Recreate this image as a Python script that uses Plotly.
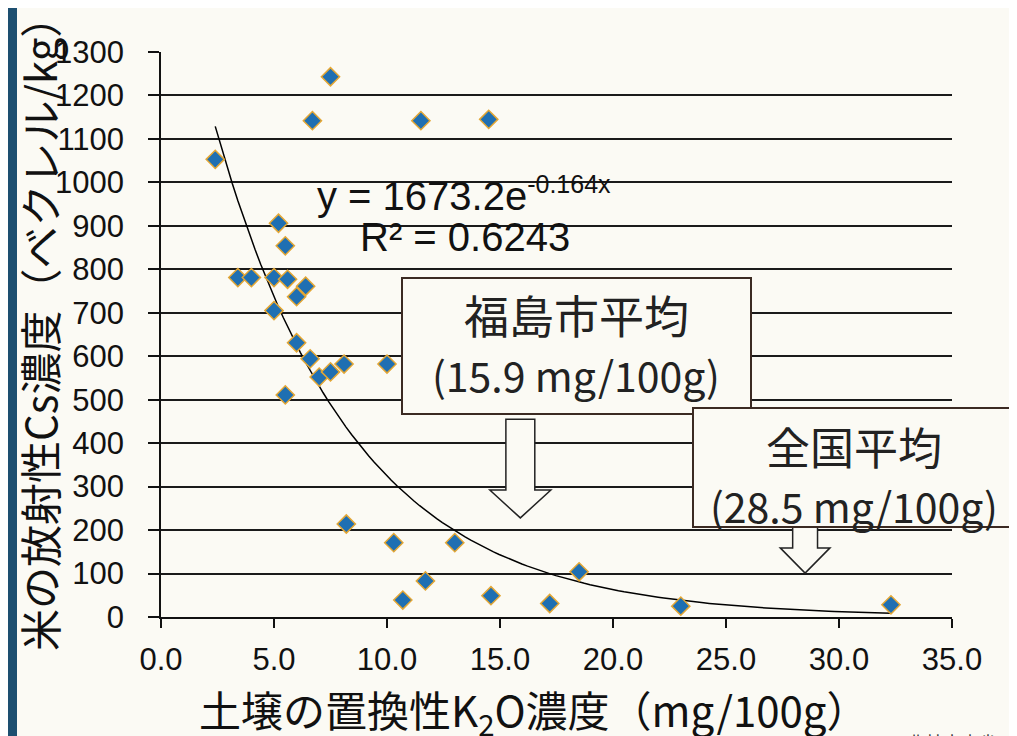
import numpy as np
import plotly.graph_objects as go

# soil exchangeable K2O (mg/100g) vs radioactive Cs in rice (Bq/kg)
k2o = [2.4, 7.5, 6.7, 11.5, 14.5, 5.2, 5.5, 3.4, 4.0, 5.0, 5.6, 6.4, 6.0, 5.0,
       6.0, 6.6, 7.0, 7.5, 8.1, 10.0, 5.5, 8.2, 10.3, 13.0, 11.7, 10.7, 14.6,
       17.2, 18.5, 23.0, 32.3]
cs = [1053, 1243, 1142, 1142, 1145, 906, 854, 781, 781, 781, 777, 761, 737, 705,
      631, 594, 552, 564, 582, 582, 511, 214, 171, 171, 83, 39, 49, 31, 104, 25, 28]

# exponential trendline shown on the chart
fit_a, fit_b = 1673.2, -0.164
r2 = 0.6243

fukushima_avg = 15.9
national_avg = 28.5

bg = '#fbfaf4'
jp = 'Noto Sans CJK JP'
latin = 'Liberation Sans'

# plot area in page pixels: x 161..952, y 52..617 (page body adds 8px offset)
OFF = 8
L, R, T, B = 161, 952, 52, 617


def px(x):
    return (x - L) / (R - L)


def py(y):
    return (B - y) / (B - T)


tx = np.linspace(min(k2o), max(k2o), 120)
ty = fit_a * np.exp(fit_b * tx)

fig = go.Figure()
fig.add_trace(go.Scatter(x=tx, y=ty, mode='lines',
                         line=dict(color='black', width=1.5),
                         hoverinfo='skip', showlegend=False))
fig.add_trace(go.Scatter(x=k2o, y=cs, mode='markers', showlegend=False,
                         marker=dict(symbol='diamond', size=14, color='#1f6fb2',
                                     line=dict(color='#e3a634', width=1.5))))


def arrow(xc, y_top, y_base, y_tip, shaft, head):
    return (f'M {xc-shaft},{y_top} L {xc+shaft},{y_top} L {xc+shaft},{y_base} '
            f'L {xc+head},{y_base} L {xc},{y_tip} L {xc-head},{y_base} '
            f'L {xc-shaft},{y_base} Z')


shapes = [
    # left slide stripe
    dict(type='rect', xref='paper', yref='paper', x0=px(4), x1=px(17),
         y0=py(760), y1=py(-20), fillcolor='#1d4f70', line_width=0, layer='above'),
    # hollow arrows
    dict(type='path', xref='x', yref='y', layer='above',
         path=arrow(fukushima_avg, 455, 292, 228, 0.64, 1.35),
         fillcolor=bg, line=dict(color='#222', width=1.5)),
    dict(type='path', xref='x', yref='y', layer='above',
         path=arrow(national_avg, 215, 159, 101, 0.55, 1.1),
         fillcolor=bg, line=dict(color='#222', width=1.5)),
    # callout boxes
    dict(type='rect', xref='paper', yref='paper', layer='above',
         x0=px(402), x1=px(751), y0=py(414), y1=py(278),
         fillcolor=bg, line=dict(color='#3b2a22', width=2)),
    dict(type='rect', xref='paper', yref='paper', layer='above',
         x0=px(693), x1=px(1015), y0=py(527), y1=py(408),
         fillcolor=bg, line=dict(color='#3b2a22', width=2)),
]

ann = [
    dict(text='米の放射性Cs濃度（ベクレル/kg）', x=px(38), y=py(324), textangle=-90,
         font=dict(family=jp, size=42, color='#111')),
    dict(text='土壌の置換性K<sub>2</sub>O濃度（mg/100g）', x=px(534), y=py(711),
         font=dict(family=jp, size=42, color='#111')),
    dict(text=f'y = {fit_a}e<sup><span style="font-size:25px">{fit_b}x</span></sup>',
         x=px(315), y=py(194), xanchor='left',
         font=dict(family=latin, size=40, color='#111')),
    dict(text=f'R² = {r2}', x=px(465), y=py(237),
         font=dict(family=latin, size=40, color='#111')),
    dict(text='福島市平均', x=px(576), y=py(314),
         font=dict(family=jp, size=45, color='#222')),
    dict(text=f'({fukushima_avg} mg/100g)', x=px(576), y=py(374),
         font=dict(family=jp, size=41, color='#222')),
    dict(text='全国平均', x=px(854), y=py(446),
         font=dict(family=jp, size=44, color='#222')),
    dict(text=f'({national_avg} mg/100g)', x=px(854), y=py(505),
         font=dict(family=jp, size=41, color='#222')),
    dict(text='農林水産省', x=px(905), y=py(742), xanchor='left',
         font=dict(family=jp, size=18, color='#333')),
]
for a in ann:
    a.setdefault('xanchor', 'center')
    a.update(xref='paper', yref='paper', yanchor='middle', showarrow=False)

fig.update_layout(
    width=1017, height=736,
    margin=dict(l=L - OFF, r=1017 - (R - OFF), t=T - OFF, b=736 - (B - OFF)),
    paper_bgcolor=bg, plot_bgcolor=bg,
    shapes=shapes, annotations=ann,
    xaxis=dict(range=[0, 35], dtick=5, tickformat='.1f', showgrid=False,
               zeroline=False, showline=True, linecolor='#111', linewidth=1.5,
               ticks='outside', ticklen=9, tickcolor='#111', tickwidth=1.5,
               ticklabelstandoff=5,
               tickfont=dict(family=latin, size=31, color='#111')),
    yaxis=dict(range=[0, 1300], dtick=100, showgrid=True, gridcolor='#1a1a1a',
               gridwidth=1.5, zeroline=False, showline=True, linecolor='#111',
               linewidth=1.5, ticks='outside', ticklen=11, tickcolor='#111',
               tickwidth=1.5, ticklabelstandoff=18,
               tickfont=dict(family=latin, size=31, color='#111')),
)

fig.write_html('out.html')
